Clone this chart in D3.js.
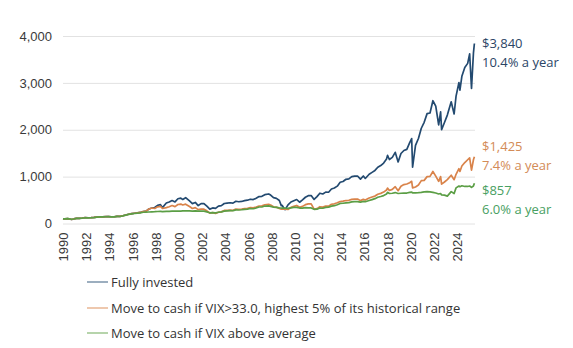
<!DOCTYPE html>
<meta charset="utf-8">
<style>
body {
  margin: 0;
  background: #fff;
}
svg {
  display: block;
  font-family: "Open Sans", sans-serif;
}
.grid line {
  stroke: #e2e2e2;
  stroke-width: 1px;
}
.axis text {
  fill: #3a3a3a;
  font-size: 13px;
}
.legend text {
  fill: #333;
  font-size: 13px;
}
.label text {
  font-size: 13px;
}
</style>
<svg width="573" height="348"></svg>
<script src="https://d3js.org/d3.v7.min.js"></script>
<script>
// growth of $100
var dates = [
  "1990-01","1990-03","1990-06","1990-10","1990-12",
  "1991-03","1991-06","1991-09","1991-12",
  "1992-03","1992-06","1992-09","1992-12",
  "1993-03","1993-06","1993-09","1993-12",
  "1994-03","1994-06","1994-09","1994-12",
  "1995-03","1995-06","1995-09","1995-12",
  "1996-03","1996-06","1996-09","1996-12",
  "1997-03","1997-06","1997-09","1997-12",
  "1998-03","1998-06","1998-08","1998-12",
  "1999-03","1999-06","1999-09","1999-12",
  "2000-03","2000-05","2000-08","2000-12",
  "2001-03","2001-06","2001-09","2001-12",
  "2002-03","2002-06","2002-09","2002-12",
  "2003-03","2003-06","2003-09","2003-12",
  "2004-03","2004-06","2004-09","2004-12",
  "2005-03","2005-06","2005-09","2005-12",
  "2006-03","2006-06","2006-09","2006-12",
  "2007-03","2007-06","2007-10","2007-12",
  "2008-03","2008-06","2008-09","2008-11","2008-12",
  "2009-02","2009-03","2009-06","2009-09","2009-12",
  "2010-03","2010-06","2010-09","2010-12",
  "2011-03","2011-06","2011-09","2011-12",
  "2012-03","2012-06","2012-09","2012-12",
  "2013-03","2013-06","2013-09","2013-12",
  "2014-03","2014-06","2014-09","2014-12",
  "2015-03","2015-06","2015-09","2015-12",
  "2016-02","2016-06","2016-09","2016-12",
  "2017-03","2017-06","2017-09","2017-12",
  "2018-01","2018-03","2018-06","2018-09","2018-12",
  "2019-03","2019-06","2019-09","2019-12",
  "2020-02","2020-03","2020-06","2020-09","2020-12",
  "2021-03","2021-06","2021-09","2021-12",
  "2022-03","2022-06","2022-08","2022-09","2022-12",
  "2023-03","2023-07","2023-10","2023-12",
  "2024-03","2024-04","2024-06","2024-09","2024-12",
  "2025-02","2025-04","2025-06","2025-07"
];

var fullyInvested = [
  100,97,103,86,97,
  111,111,117,126,
  123,125,129,136,
  142,142,146,149,
  144,144,152,151,
  166,182,197,209,
  219,229,236,256,
  263,308,331,341,
  388,401,339,437,
  459,491,460,528,
  541,513,550,481,
  424,449,383,424,
  426,369,306,332,
  321,371,381,427,
  434,442,434,474,
  464,470,487,497,
  518,510,539,574,
  579,615,630,607,
  551,537,492,381,386,
  315,295,397,459,486,
  512,454,505,560,
  593,595,513,574,
  646,629,669,667,
  737,758,797,880,
  896,943,953,1000,
  1010,1013,947,1013,
  961,1051,1091,1132,
  1200,1236,1290,1375,
  1454,1365,1410,1519,1314,
  1493,1557,1582,1725,
  1813,1200,1667,1814,2032,
  2158,2344,2358,2619,
  2503,2102,2383,2001,2154,
  2313,2596,2336,2716,
  3007,2847,3140,3330,3416,
  3620,2880,3639,3840
];

var cashVix33 = [
  100,97,103,86,97,
  111,111,117,126,
  123,125,129,136,
  142,142,146,149,
  144,144,152,151,
  166,182,197,209,
  219,229,236,256,
  263,308,331,320,
  355,365,320,340,
  358,383,360,405,
  415,395,412,362,
  320,338,295,305,
  306,270,220,232,
  215,242,248,278,
  282,287,282,308,
  302,306,317,323,
  337,332,350,373,
  376,400,410,395,
  358,349,320,305,306,
  307,307,300,345,365,
  385,345,365,402,
  420,418,305,318,
  358,349,371,370,
  410,420,442,470,
  478,490,495,515,
  520,522,488,515,
  500,545,565,585,
  625,643,670,715,
  755,705,728,785,700,
  795,830,843,870,
  900,760,780,820,915,
  920,1000,1005,1110,
  1010,900,1000,840,885,
  935,1030,935,1050,
  1170,1110,1225,1300,1360,
  1400,1140,1360,1425
];

var cashVixAvg = [
  100,97,103,90,96,
  109,109,115,123,
  121,123,127,134,
  140,140,144,147,
  143,143,150,149,
  163,179,194,205,
  214,222,228,240,
  242,245,250,252,
  256,258,255,258,
  260,262,262,265,
  266,268,270,268,
  265,268,262,262,
  264,248,228,230,
  228,240,248,265,
  270,275,272,290,
  288,293,302,308,
  320,315,330,352,
  352,372,375,365,
  350,345,335,330,330,
  328,326,322,335,345,
  345,330,328,340,
  335,332,302,305,
  330,325,345,350,
  370,380,400,428,
  432,440,445,460,
  465,468,455,470,
  465,490,510,530,
  560,575,595,630,
  665,640,645,660,640,
  645,650,650,665,
  670,655,655,658,665,
  675,680,675,665,
  650,630,640,610,605,
  585,680,640,760,
  800,785,805,790,790,
  800,770,800,857
];

var yTicks = [0, 1000, 2000, 3000, 4000];
var xTickYears = [1990,1992,1994,1996,1998,2000,2002,2004,2006,2008,
                  2010,2012,2014,2016,2018,2020,2022,2024];

var seriesNames = [
  "Fully invested",
  "Move to cash if VIX>33.0, highest 5% of its historical range",
  "Move to cash if VIX above average"
];
var seriesColors = ["#234a70", "#d9834a", "#5b9e45"];
var labelColors = ["#2b4566", "#d38b57", "#48a062"];
var endValues = ["$3,840", "$1,425", "$857"];
var endRates = ["10.4% a year", "7.4% a year", "6.0% a year"];

// layout
var plotLeft = 63, plotRight = 475, plotTop = 36, plotBottom = 223.5;
var labelShift = [0, -10, 7];
var legendX = 87, legendRows = [282, 308, 333];

var svg = d3.select("svg");
var parse = d3.timeParse("%Y-%m");

var x = d3.scaleTime()
    .domain([new Date(1990, 0, 1), new Date(2025, 6, 20)])
    .range([plotLeft, plotRight]);
var y = d3.scaleLinear()
    .domain([0, 4000])
    .range([plotBottom, plotTop]);

// gridlines
svg.append("g")
    .attr("class", "grid")
    .attr("transform", "translate(" + plotLeft + ",0)")
    .call(d3.axisLeft(y).tickValues(yTicks).tickSize(-(plotRight - plotLeft)).tickFormat(""))
    .call(function(g) { g.select(".domain").remove(); });

// y axis
svg.append("g")
    .attr("class", "axis")
    .attr("transform", "translate(" + plotLeft + ",0)")
    .call(d3.axisLeft(y).tickValues(yTicks).tickSize(0).tickPadding(11).tickFormat(d3.format(",")))
    .call(function(g) {
      g.select(".domain").remove();
      g.selectAll("text").attr("font-family", null).attr("font-size", null);
    });

// x axis
svg.append("g")
    .attr("class", "axis")
    .attr("transform", "translate(0," + plotBottom + ")")
    .call(d3.axisBottom(x)
      .tickValues(xTickYears.map(function(yr) { return new Date(yr, 0, 1); }))
      .tickSize(0)
      .tickFormat(d3.timeFormat("%Y")))
    .call(function(g) {
      g.select(".domain").remove();
      g.selectAll("text")
        .attr("font-family", null).attr("font-size", null)
        .attr("transform", "rotate(-90)")
        .attr("text-anchor", "end")
        .attr("x", -9)
        .attr("y", 0)
        .attr("dy", "0.35em");
    });

var series = [fullyInvested, cashVix33, cashVixAvg].map(function(vals) {
  return vals.map(function(v, i) { return {date: parse(dates[i]), v: v}; });
});

var line = d3.line()
    .x(function(d) { return x(d.date); })
    .y(function(d) { return y(d.v); });

svg.append("g").selectAll("path")
  .data(series)
  .enter().append("path")
    .attr("fill", "none")
    .attr("stroke", function(d, i) { return seriesColors[i]; })
    .attr("stroke-width", 1.7)
    .attr("stroke-linejoin", "round")
    .attr("d", line);

// end labels
var labels = svg.append("g").attr("class", "label");
series.forEach(function(s, i) {
  var last = s[s.length - 1];
  var cy = y(last.v) + labelShift[i];
  var t = labels.append("text")
      .attr("x", plotRight + 7)
      .attr("fill", labelColors[i]);
  t.append("tspan").attr("x", plotRight + 7).attr("y", cy).attr("dy", "0.35em").text(endValues[i]);
  t.append("tspan").attr("x", plotRight + 7).attr("y", cy + 19).attr("dy", "0.35em").text(endRates[i]);
});

// legend
var legend = svg.append("g").attr("class", "legend");
seriesNames.forEach(function(name, i) {
  legend.append("line")
      .attr("x1", legendX).attr("x2", legendX + 21)
      .attr("y1", legendRows[i]).attr("y2", legendRows[i])
      .attr("stroke", seriesColors[i])
      .attr("stroke-opacity", 0.6)
      .attr("stroke-width", 1.5);
  legend.append("text")
      .attr("x", legendX + 24)
      .attr("y", legendRows[i])
      .attr("dy", "0.35em")
      .text(name);
});
</script>
